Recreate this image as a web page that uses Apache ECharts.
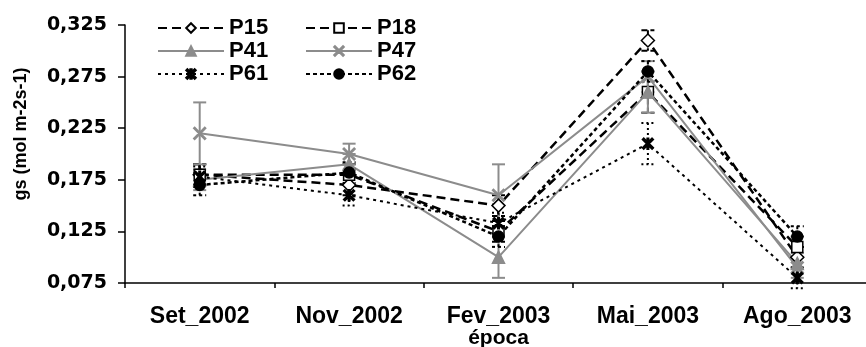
<!DOCTYPE html>
<html>
<head>
<meta charset="utf-8">
<script src="https://cdn.jsdelivr.net/npm/echarts@6/dist/echarts.min.js"></script>
<style>
  html, body { margin: 0; padding: 0; background: #fff; }
  #chart { width: 866px; height: 347px; }
</style>
</head>
<body>
<div id="chart"></div>
<script>
const categories = ["Set_2002", "Nov_2002", "Fev_2003", "Mai_2003", "Ago_2003"];
const p15 = [0.18, 0.17, 0.15, 0.31, 0.10];
const p18 = [0.18, 0.18, 0.125, 0.26, 0.11];
const p41 = [0.175, 0.19, 0.10, 0.26, 0.094];
const p47 = [0.22, 0.20, 0.16, 0.275, 0.09];
const p61 = [0.178, 0.16, 0.133, 0.21, 0.08];
const p62 = [0.17, 0.182, 0.12, 0.28, 0.12];
// half-width of the error bars
const e15 = [0.01, 0.01, 0.01, 0.01, 0.01];
const e18 = [0.01, 0.01, 0.01, 0.02, 0.01];
const e41 = [0.01, 0.01, 0.02, 0.02, 0.01];
const e47 = [0.03, 0.01, 0.03, 0.015, 0.01];
const e61 = [0.01, 0.01, 0.01, 0.02, 0.01];
const e62 = [0.01, 0.01, 0.01, 0.01, 0.01];
const yTicks = [0.075, 0.125, 0.175, 0.225, 0.275, 0.325];

const crossPath = "path://M0,0.8L0.8,0L10,9.2L9.2,10Z M9.2,0L10,0.8L0.8,10L0,9.2Z";
const starPath = "path://M0,1.2L1.2,0L10,8.8L8.8,10Z M8.8,0L10,1.2L1.2,10L0,8.8Z M4.3,0L5.7,0L5.7,10L4.3,10Z";

const font = "Liberation Sans";
const gray = "#8c8c8c";

const chart = echarts.init(document.getElementById("chart"));

function lineSeries(name, data, color, dash, width, symbol, fill, size) {
  return {
    name: name,
    type: "line",
    data: data,
    symbol: symbol,
    symbolSize: size,
    z: 3,
    lineStyle: { color: color, width: width, type: dash },
    itemStyle: { color: fill, borderColor: color, borderWidth: 1.5 }
  };
}

function errSeries(vals, errs, color, dash) {
  return {
    type: "custom",
    z: 2,
    silent: true,
    data: vals.map((v, i) => [i, v - errs[i], v + errs[i]]),
    renderItem(params, api) {
      const lo = api.coord([api.value(0), api.value(1)]);
      const hi = api.coord([api.value(0), api.value(2)]);
      const w = 6.5;
      const style = { stroke: color, lineWidth: 2, lineDash: dash };
      return {
        type: "group",
        children: [
          { type: "line", shape: { x1: hi[0], y1: hi[1], x2: lo[0], y2: lo[1] }, style: style },
          { type: "line", shape: { x1: hi[0] - w, y1: hi[1], x2: hi[0] + w, y2: hi[1] }, style: style },
          { type: "line", shape: { x1: lo[0] - w, y1: lo[1], x2: lo[0] + w, y2: lo[1] }, style: style }
        ]
      };
    }
  };
}

const legendText = { fontFamily: font, fontSize: 22, fontWeight: "bold", color: "#000", lineHeight: 22 };

chart.setOption({
  animation: false,
  legend: [
    {
      data: ["P15", "P41", "P61"], orient: "vertical", left: 157, top: 17, padding: 0,
      itemWidth: 66, itemHeight: 12, itemGap: 1, textStyle: legendText
    },
    {
      data: ["P18", "P47", "P62"], orient: "vertical", left: 305, top: 17, padding: 0,
      itemWidth: 66, itemHeight: 12, itemGap: 1, textStyle: legendText
    }
  ],
  grid: { left: 125, top: 25, bottom: 64, width: 747, containLabel: false, outerBoundsMode: "none" },
  xAxis: {
    type: "category",
    data: categories,
    boundaryGap: true,
    name: "época",
    nameLocation: "middle",
    nameGap: 45,
    nameMoveOverlap: false,
    nameTextStyle: { fontFamily: font, fontSize: 21, fontWeight: "bold", color: "#000" },
    axisLine: { lineStyle: { color: "#000", width: 1.5 } },
    axisTick: { show: true, length: 5, lineStyle: { color: "#000", width: 1.5 } },
    axisLabel: { fontFamily: font, fontSize: 23, fontWeight: "bold", color: "#000", margin: 22 },
    splitLine: { show: false }
  },
  yAxis: {
    type: "value",
    min: yTicks[0],
    max: yTicks[yTicks.length - 1],
    interval: 0.05,
    name: "gs (mol m-2s-1)",
    nameLocation: "middle",
    nameGap: 95,
    nameMoveOverlap: false,
    nameTextStyle: { fontFamily: font, fontSize: 18, fontWeight: "bold", color: "#000", padding: [0, 0, 0, 40] },
    axisLine: { show: true, lineStyle: { color: "#000", width: 1.5 } },
    axisTick: { show: true, length: 7, lineStyle: { color: "#000", width: 1.5 } },
    axisLabel: {
      fontFamily: "DejaVu Sans", fontSize: 19, fontWeight: "bold", color: "#000", margin: 18,
      formatter: v => v.toFixed(3).replace(".", ",")
    },
    splitLine: { show: false }
  },
  series: [
    errSeries(p15, e15, "#000", [6, 3]),
    errSeries(p18, e18, "#000", [6, 3]),
    errSeries(p41, e41, gray, null),
    errSeries(p47, e47, gray, null),
    errSeries(p61, e61, "#000", [2, 3]),
    errSeries(p62, e62, "#000", [3, 3]),
    lineSeries("P15", p15, "#000", [9, 5], 2.5, "diamond", "#fff", 13),
    lineSeries("P18", p18, "#000", [9, 5], 2.5, "rect", "#fff", 11),
    lineSeries("P41", p41, gray, "solid", 2, "triangle", gray, 12),
    lineSeries("P47", p47, gray, "solid", 2, crossPath, gray, 12),
    lineSeries("P61", p61, "#000", [3, 4], 2, starPath, "#000", 11),
    lineSeries("P62", p62, "#000", [4, 3], 2.5, "circle", "#000", 11)
  ]
});
</script>
</body>
</html>
